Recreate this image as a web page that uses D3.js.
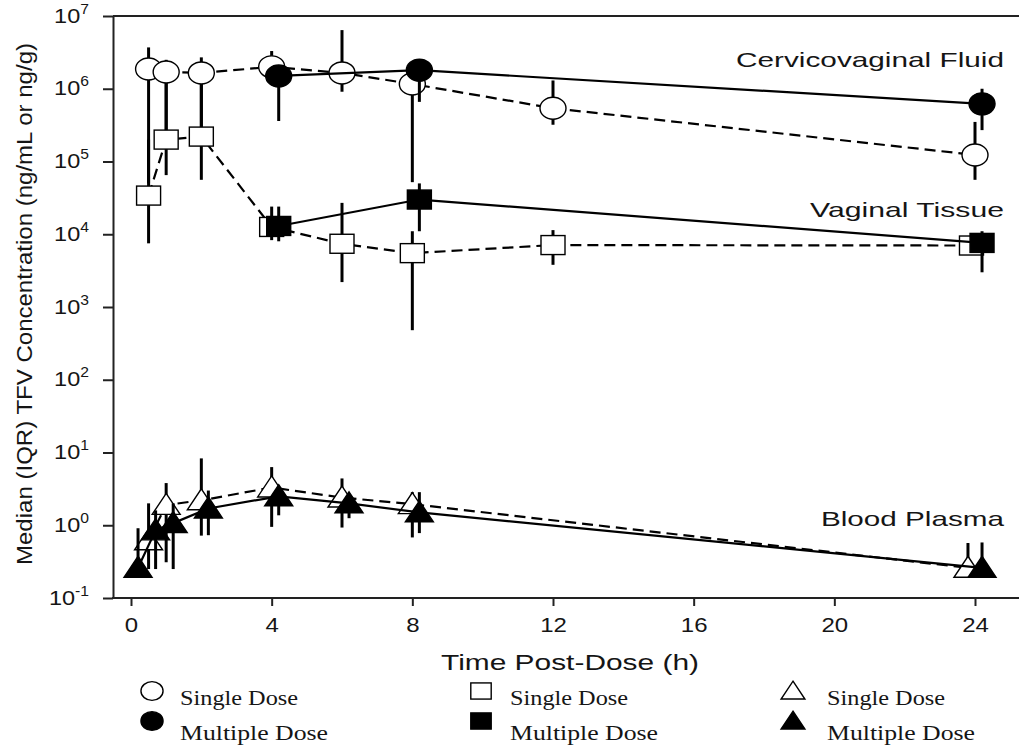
<!DOCTYPE html>
<html><head><meta charset="utf-8">
<script src="https://cdn.jsdelivr.net/npm/d3@7"></script>
<style>body{margin:0;background:#fff}svg{display:block}</style>
</head><body><svg id="c" width="1019" height="749"></svg>
<script>
// ---------- data ----------
const yTickValues = [1e-1, 1e0, 1e1, 1e2, 1e3, 1e4, 1e5, 1e6, 1e7];
const yTickExponents = ["-1", "0", "1", "2", "3", "4", "5", "6", "7"];
const xTickValues = [0, 4, 8, 12, 16, 20, 24];

// Cervicovaginal fluid
const cvfSingleTime = [0.5, 1, 2, 4, 6, 8, 12, 24];
const cvfSingleMed  = [1.87e6, 1.7e6, 1.65e6, 2.0e6, 1.65e6, 1.16e6, 5.4e5, 1.23e5];
const cvfSingleLo   = [5e4, 2.2e5, 2.2e5, 1.3e6, 9.1e5, 5.2e4, 3.2e5, 5.6e4];
const cvfSingleHi   = [3.7e6, 2.5e6, 2.7e6, 3.3e6, 6.4e6, 1.6e6, 1.3e6, 3.5e5];
const cvfMultiTime  = [4.2, 8.2, 24.2];
const cvfMultiMed   = [1.5e6, 1.8e6, 6.2e5];
const cvfMultiLo    = [3.6e5, 6.6e5, 2.7e5];
const cvfMultiHi    = [2.0e6, 2.3e6, 1.0e6];

// Vaginal tissue
const vtSingleTime = [0.5, 1, 2, 4, 6, 8, 12, 23.9];
const vtSingleMed  = [3.4e4, 2.0e5, 2.2e5, 1.26e4, 7.4e3, 5.5e3, 7.1e3, 7.0e3];
const vtSingleLo   = [7.5e3, 6.5e4, 5.6e4, 8.3e3, 2.2e3, 480, 3.8e3, 5.5e3];
const vtSingleHi   = [2.0e5, 1.2e6, 1.2e6, 2.4e4, 2.7e4, 1.1e4, 1.14e4, 9e3];
const vtMultiTime  = [4.2, 8.2, 24.2];
const vtMultiMed   = [1.3e4, 3.0e4, 7.6e3];
const vtMultiLo    = [8e3, 1.1e4, 3.0e3];
const vtMultiHi    = [2.4e4, 5e4, 1.1e4];

// Blood plasma
const bpSingleTime = [0.5, 1, 2, 4, 6, 8, 23.8];
const bpSingleMed  = [0.62, 1.9, 2.2, 3.3, 2.4, 1.95, 0.26];
const bpSingleLo   = [0.25, 0.31, 0.72, 0.95, 0.93, 0.68, 0.2];
const bpSingleHi   = [2.0, 3.8, 8.3, 6.3, 4.4, 2.85, 0.57];
const bpMultiTime  = [0.2, 0.7, 1.2, 2.2, 4.2, 6.2, 8.2, 24.2];
const bpMultiMed   = [0.26, 0.85, 1.07, 1.7, 2.5, 2.0, 1.5, 0.26];
const bpMultiLo    = [0.2, 0.25, 0.25, 0.73, 1.37, 1.25, 0.78, 0.2];
const bpMultiHi    = [0.91, 1.6, 2.0, 3.0, 3.0, 2.5, 2.85, 0.58];

const tissueLabels = ["Cervicovaginal Fluid", "Vaginal Tissue", "Blood Plasma"];
const tissueLabelValues = [2.6e6, 2.2e4, 1.25];
const legendLabels = ["Single Dose", "Multiple Dose"];
const yTitle = "Median (IQR) TFV Concentration (ng/mL or ng/g)";
const xTitle = "Time Post-Dose (h)";

// ---------- build ----------
function mk(t, m, lo, hi, shape, filled) {
  return t.map((d, i) => ({t: d, m: m[i], lo: lo[i], hi: hi[i], shape, filled}));
}
const singles = [
  mk(cvfSingleTime, cvfSingleMed, cvfSingleLo, cvfSingleHi, "circle", false),
  mk(vtSingleTime, vtSingleMed, vtSingleLo, vtSingleHi, "square", false),
  mk(bpSingleTime, bpSingleMed, bpSingleLo, bpSingleHi, "triangle", false)
];
const multis = [
  mk(cvfMultiTime, cvfMultiMed, cvfMultiLo, cvfMultiHi, "circle", true),
  mk(vtMultiTime, vtMultiMed, vtMultiLo, vtMultiHi, "square", true),
  mk(bpMultiTime, bpMultiMed, bpMultiLo, bpMultiHi, "triangle", true)
];

const svg = d3.select("#c");
svg.append("rect").attr("width", 1019).attr("height", 749).attr("fill", "#fff");

const x = d3.scaleLinear().domain([0, 24]).range([131, 975]);
const y = d3.scaleLog().domain([0.1, 1e7]).range([598, 16]);
const axisX0 = 113, axisRight = 1019;
const sans = "'Liberation Sans', Arial, sans-serif";
const serif = "'Liberation Serif', 'DejaVu Serif', serif";

// frame lines
svg.append("line").attr("x1", axisX0).attr("x2", axisRight).attr("y1", y(1e7)).attr("y2", y(1e7))
  .attr("stroke", "#222").attr("stroke-width", 2);
svg.append("line").attr("x1", axisX0 - 1).attr("x2", axisRight).attr("y1", y(0.1)).attr("y2", y(0.1))
  .attr("stroke", "#222").attr("stroke-width", 2);

// y axis
const gy = svg.append("g").attr("transform", `translate(${axisX0},0)`)
  .call(d3.axisLeft(y).tickValues(yTickValues).tickSize(10).tickSizeOuter(0).tickFormat(""));
gy.select(".domain").attr("stroke", "#222").attr("stroke-width", 2);
gy.selectAll(".tick line").attr("stroke", "#222").attr("stroke-width", 2);
gy.selectAll(".tick").each(function(d, i) {
  const t = d3.select(this).append("text").attr("transform", "translate(-24,6) scale(1.12,1)")
    .attr("text-anchor", "end").attr("fill", "#151515")
    .style("font-family", sans).style("font-size", "21px");
  t.append("tspan").text("10");
  t.append("tspan").attr("dy", -9).style("font-size", "14px").text(yTickExponents[i]);
});

// x axis
const gx = svg.append("g").attr("transform", `translate(0,${y(0.1)})`)
  .call(d3.axisBottom(x).tickValues(xTickValues).tickSize(8).tickSizeOuter(0));
gx.select(".domain").remove();
gx.selectAll(".tick line").attr("stroke", "#222").attr("stroke-width", 2);
gx.selectAll(".tick text").attr("y", 20).attr("dy", "0.71em").attr("fill", "#151515")
  .style("font-family", sans).style("font-size", "20px")
  .attr("transform", "scale(1.2,1)");

// axis titles
svg.append("text").attr("x", 570).attr("y", 670).attr("text-anchor", "middle")
  .attr("textLength", 258).attr("lengthAdjust", "spacingAndGlyphs")
  .style("font-family", sans).style("font-size", "22px").attr("fill", "#151515").text(xTitle);
svg.append("text").attr("transform", "translate(32,304) rotate(-90)").attr("text-anchor", "middle")
  .attr("textLength", 522).attr("lengthAdjust", "spacingAndGlyphs")
  .style("font-family", sans).style("font-size", "22px").attr("fill", "#151515").text(yTitle);

// tissue labels
const labelWidths = [268, 194, 183];
tissueLabels.forEach((s, i) => {
  svg.append("text").attr("x", 1004 - labelWidths[i]).attr("y", y(tissueLabelValues[i]) + 8)
    .attr("textLength", labelWidths[i]).attr("lengthAdjust", "spacingAndGlyphs")
    .style("font-family", sans).style("font-size", "21px").attr("fill", "#151515").text(s);
});

// marker drawing
const MS = {circle: {rx: 13, ry: 11}, square: {w: 24, h: 19}, triangle: {w: 28, h: 21}};
function drawMarker(g, shape, cx, cy, filled, scale = 1) {
  const fill = filled ? "#000" : "#fff";
  if (shape === "circle") {
    g.append("ellipse").attr("cx", cx).attr("cy", cy)
      .attr("rx", MS.circle.rx * scale).attr("ry", MS.circle.ry * scale)
      .attr("fill", fill).attr("stroke", "#000").attr("stroke-width", 1.4);
  } else if (shape === "square") {
    const w = MS.square.w * scale, h = MS.square.h * scale;
    g.append("rect").attr("x", cx - w / 2).attr("y", cy - h / 2).attr("width", w).attr("height", h)
      .attr("fill", fill).attr("stroke", "#000").attr("stroke-width", 1.4);
  } else {
    const w = MS.triangle.w * scale, h = MS.triangle.h * scale;
    g.append("path").attr("d", `M${cx},${cy - h * 0.55}L${cx + w / 2},${cy + h * 0.45}L${cx - w / 2},${cy + h * 0.45}Z`)
      .attr("fill", fill).attr("stroke", "#000").attr("stroke-width", 1.4);
  }
}

const line = d3.line().x(d => x(d.t)).y(d => y(d.m));
const plot = svg.append("g");

function drawGroup(series, dashed) {
  series.forEach(s => {
    plot.append("g").selectAll("line").data(s).join("line")
      .attr("x1", d => x(d.t)).attr("x2", d => x(d.t))
      .attr("y1", d => y(d.lo)).attr("y2", d => y(d.hi))
      .attr("stroke", "#000").attr("stroke-width", 3);
  });
  series.forEach(s => {
    plot.append("path").datum(s).attr("d", line).attr("fill", "none")
      .attr("stroke", "#000").attr("stroke-width", 2.2)
      .attr("stroke-dasharray", dashed ? "11,6" : null);
  });
  series.forEach(s => {
    const g = plot.append("g");
    s.forEach(d => drawMarker(g, d.shape, x(d.t), y(d.m), d.filled));
  });
}
drawGroup(singles, true);
drawGroup(multis, false);

// legend
const legendX = [152, 481, 793];
const legendTextX = [180, 510, 827];
const shapes = ["circle", "square", "triangle"];
const lg = svg.append("g");
shapes.forEach((sh, i) => {
  drawMarker(lg, sh, legendX[i], 691, false, 0.85);
  drawMarker(lg, sh, legendX[i], 721, true, 0.85);
  lg.append("text").attr("x", legendTextX[i]).attr("y", 705)
    .attr("textLength", 118).attr("lengthAdjust", "spacingAndGlyphs")
    .style("font-family", serif).style("font-size", "20px").attr("fill", "#151515").text(legendLabels[0]);
  lg.append("text").attr("x", legendTextX[i]).attr("y", 740)
    .attr("textLength", 148).attr("lengthAdjust", "spacingAndGlyphs")
    .style("font-family", serif).style("font-size", "20px").attr("fill", "#151515").text(legendLabels[1]);
});
</script></body></html>
